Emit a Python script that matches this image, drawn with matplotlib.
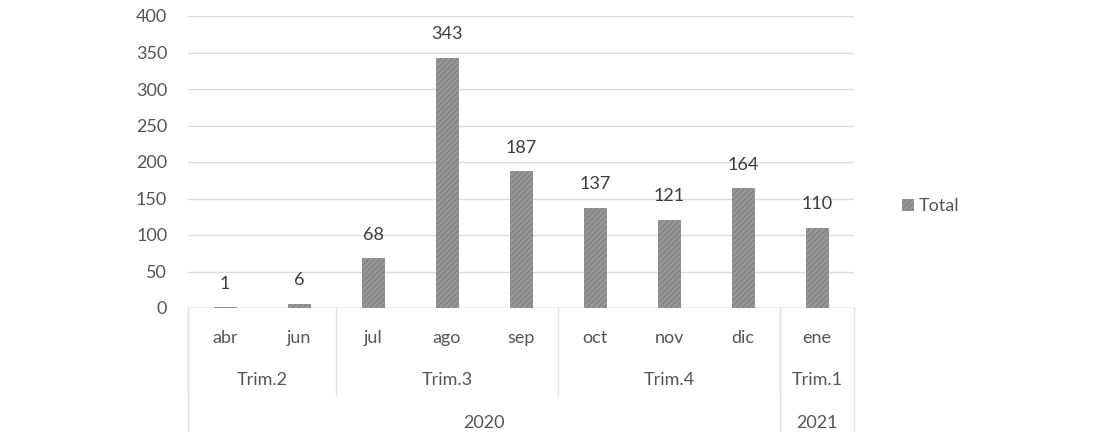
import matplotlib.pyplot as plt
import numpy as np

months = ["abr", "jun", "jul", "ago", "sep", "oct", "nov", "dic", "ene"]
values = [1, 6, 68, 343, 187, 137, 121, 164, 110]
quarters = ["Trim.2", "Trim.3", "Trim.4", "Trim.1"]
quarter_sizes = [2, 3, 3, 1]
years = ["2020", "2021"]
year_sizes = [8, 1]

plt.rcParams["font.family"] = ["Lato", "DejaVu Sans"]
plt.rcParams["hatch.linewidth"] = 0.6
plt.rcParams["hatch.color"] = "#6a6a6a"

fs = 13
txt = "#555555"

fig = plt.figure(figsize=(10.96, 4.32), dpi=100)
ax = fig.add_axes([188 / 1096, 1 - 308 / 432, (854 - 188) / 1096, 292 / 432])

x = np.arange(len(months))
ax.bar(x, values, width=0.3, color="#969696", hatch="//////",
       edgecolor="#7a7a7a", linewidth=0.5, label="Total", zorder=3)

for xi, v in zip(x, values):
    ax.annotate(str(v), (xi, v), xytext=(0, 17), textcoords="offset points",
                ha="center", va="center", fontsize=fs, color="#3c3c3c")

ax.set_xlim(-0.5, len(months) - 0.5)
ax.set_ylim(0, 400)
ax.set_yticks(np.arange(0, 401, 50))
ax.yaxis.grid(True, color="#dcdcdc", linewidth=1)
ax.set_axisbelow(True)
for s in ax.spines.values():
    s.set_visible(False)
ax.axhline(0, color="#cfcfcf", linewidth=1, zorder=2)
ax.tick_params(axis="y", length=0, pad=15, labelsize=fs, labelcolor=txt)
ax.tick_params(axis="x", length=0, labelbottom=False)

# multi-level category axis
trans = ax.get_xaxis_transform()
for xi, m in zip(x, months):
    ax.text(xi, -0.103, m, transform=trans, ha="center", va="center",
            fontsize=fs, color=txt)

sep_color = "#e2e2e2"
start = -0.5
for q, n in zip(quarters, quarter_sizes):
    ax.text(start + n / 2, -0.247, q, transform=trans, ha="center", va="center",
            fontsize=fs, color=txt)
    ax.plot([start, start], [0, -0.298], transform=trans, color=sep_color,
            linewidth=1, clip_on=False)
    start += n
start = -0.5
for yr, n in zip(years, year_sizes):
    ax.text(start + n / 2, -0.394, yr, transform=trans, ha="center", va="center",
            fontsize=fs, color=txt)
    ax.plot([start, start], [0, -0.43], transform=trans, color=sep_color,
            linewidth=1, clip_on=False)
    start += n
ax.plot([start, start], [0, -0.43], transform=trans, color=sep_color,
        linewidth=1, clip_on=False)

ax.legend(loc="center left", bbox_to_anchor=(893 / 1096, 1 - 206 / 432),
          bbox_transform=fig.transFigure, frameon=False, fontsize=fs,
          handlelength=0.6, handleheight=0.6, handletextpad=0.3,
          borderpad=0, labelcolor=txt)

fig.savefig("out.png", dpi=100)
